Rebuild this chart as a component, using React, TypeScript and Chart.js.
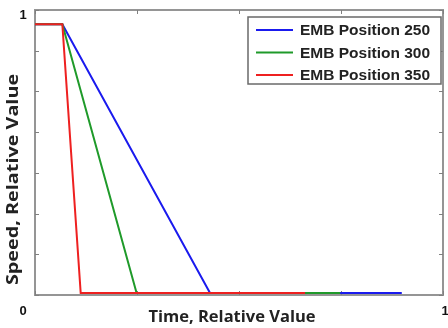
import React, { useEffect, useRef } from "react";
import { Chart, registerables } from "chart.js";

Chart.register(...registerables);

// Relative time (x) and relative speed (y) for each EMB position
const seriesLabels = ["EMB Position 250", "EMB Position 300", "EMB Position 350"];
const seriesColors = ["#1a1aee", "#1f9a2a", "#ee2020"];

const timeP250 = [0, 0.067, 0.429, 0.899];
const speedP250 = [0.95, 0.95, 0.007, 0.007];

const timeP300 = [0, 0.067, 0.249, 0.748];
const speedP300 = [0.95, 0.95, 0.007, 0.007];

const timeP350 = [0, 0.067, 0.112, 0.662];
const speedP350 = [0.95, 0.95, 0.007, 0.007];

// Axis ticks (inward marks) and the few tick labels that are printed
const xTickValues = [0, 0.25, 0.5, 0.75, 1];
const yTickValues = [0, 1 / 7, 2 / 7, 3 / 7, 4 / 7, 5 / 7, 6 / 7, 1];
const xTickLabels = ["0", "1"];
const yTickLabels = ["1"];

const xTitle = "Time, Relative Value";
const yTitle = "Speed, Relative Value";

const toPoints = (xs: number[], ys: number[]) => xs.map((x, i) => ({ x, y: ys[i] }));

const framePlugin = {
  id: "frameAndLegend",
  beforeDatasetsDraw(chart: any) {
    const { ctx, chartArea } = chart;
    const xs = chart.scales.x;
    const ys = chart.scales.y;
    const { left, right, top, bottom } = chartArea;

    ctx.save();
    // plot frame
    ctx.strokeStyle = "#959595";
    ctx.lineWidth = 2;
    ctx.strokeRect(left, top, right - left, bottom - top);

    // inward tick marks on all four sides
    ctx.lineWidth = 1;
    ctx.strokeStyle = "#808080";
    const tl = 4;
    xTickValues.forEach((v) => {
      const px = Math.round(xs.getPixelForValue(v)) + 0.5;
      ctx.beginPath();
      ctx.moveTo(px, bottom);
      ctx.lineTo(px, bottom - tl);
      ctx.moveTo(px, top);
      ctx.lineTo(px, top + tl);
      ctx.stroke();
    });
    yTickValues.forEach((v) => {
      const py = Math.round(ys.getPixelForValue(v)) + 0.5;
      ctx.beginPath();
      ctx.moveTo(left, py);
      ctx.lineTo(left + tl, py);
      ctx.moveTo(right, py);
      ctx.lineTo(right - tl, py);
      ctx.stroke();
    });

    // tick labels
    ctx.fillStyle = "#111";
    ctx.font = "bold 13px 'Liberation Sans', Arial, sans-serif";
    ctx.textAlign = "center";
    ctx.textBaseline = "middle";
    ctx.fillText(yTickLabels[0], left - 12, ys.getPixelForValue(1) + 5);
    ctx.fillText(xTickLabels[0], xs.getPixelForValue(0) - 12, bottom + 16);
    ctx.fillText(xTickLabels[1], xs.getPixelForValue(1) + 2, bottom + 16);

    // axis titles
    ctx.fillStyle = "#222";
    ctx.font = "bold 16.5px 'Open Sans', sans-serif";
    ctx.fillText(xTitle, (left + right) / 2 - 7, bottom + 22);
    ctx.save();
    ctx.translate(13, (top + bottom) / 2 + 27);
    ctx.rotate(-Math.PI / 2);
    ctx.scale(1.2, 1);
    ctx.fillText(yTitle, 0, 0);
    ctx.restore();
    ctx.restore();
  },
  afterDatasetsDraw(chart: any) {
    const { ctx, chartArea } = chart;
    const { right } = chartArea;

    ctx.save();
    // legend box in the upper right of the plot
    const bx = 248;
    const by = 17;
    const bw = right - 2 - bx;
    const bh = 67;
    ctx.fillStyle = "#ffffff";
    ctx.fillRect(bx, by, bw, bh);
    ctx.strokeStyle = "#6a6a6a";
    ctx.lineWidth = 1.5;
    ctx.strokeRect(bx, by, bw, bh);
    ctx.font = "bold 15.5px 'Liberation Sans', Arial, sans-serif";
    ctx.textAlign = "left";
    ctx.textBaseline = "middle";
    seriesLabels.forEach((label, i) => {
      const cy = by + 13 + i * 22.5;
      ctx.strokeStyle = seriesColors[i];
      ctx.lineWidth = 2;
      ctx.beginPath();
      ctx.moveTo(bx + 8, cy);
      ctx.lineTo(bx + 45, cy);
      ctx.stroke();
      ctx.fillStyle = "#222";
      ctx.fillText(label, bx + 52, cy + 1);
    });
    ctx.restore();
  },
};

export default function App() {
  const canvasRef = useRef<HTMLCanvasElement | null>(null);

  useEffect(() => {
    if (!canvasRef.current) return;
    const series = [
      toPoints(timeP250, speedP250),
      toPoints(timeP300, speedP300),
      toPoints(timeP350, speedP350),
    ];
    const chart = new Chart(canvasRef.current, {
      type: "line",
      data: {
        datasets: series.map((data, i) => ({
          label: seriesLabels[i],
          data,
          borderColor: seriesColors[i],
          backgroundColor: seriesColors[i],
          borderWidth: 2,
          pointRadius: 0,
          tension: 0,
          fill: false,
          // later series sit on top of earlier ones
          order: seriesLabels.length - 1 - i,
        })),
      },
      options: {
        responsive: false,
        animation: false,
        devicePixelRatio: 1,
        layout: { padding: { left: 35, top: 10, right: 5, bottom: 33 } },
        scales: {
          x: { type: "linear", min: 0, max: 1, display: false },
          y: { type: "linear", min: 0, max: 1, display: false },
        },
        plugins: {
          legend: { display: false },
          tooltip: { enabled: false },
        },
      },
      plugins: [framePlugin],
    });
    return () => chart.destroy();
  }, []);

  return (
    <div style={{ position: "absolute", left: 0, top: 0, width: 448, height: 328, background: "#fff" }}>
      <canvas ref={canvasRef} width={448} height={328} style={{ display: "block" }} />
    </div>
  );
}
